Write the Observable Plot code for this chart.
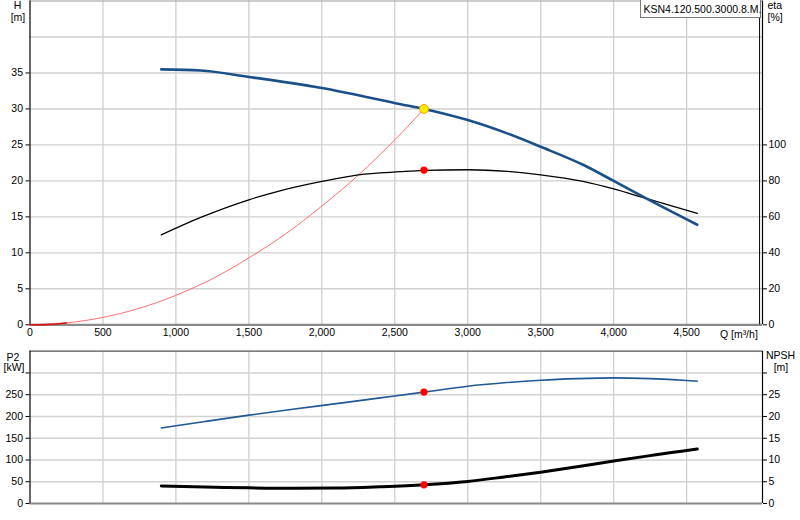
<!DOCTYPE html>
<html>
<head>
<meta charset="utf-8">
<script src="https://cdn.jsdelivr.net/npm/d3@7"></script>
<script src="https://cdn.jsdelivr.net/npm/@observablehq/plot@0.6"></script>
<style>
  body { margin: 0; background: #fff; }
  #wrap { position: relative; width: 800px; height: 520px; overflow: hidden; font-family: "Liberation Sans", Arial, sans-serif; }
  #topChart, #bottomChart { position: absolute; left: 0; }
  #topChart { top: 0; }
  #bottomChart { top: 345px; }
  #legend { position: absolute; left: 639.5px; top: -1px; width: 121px; height: 19px; border: 1px solid #7a7a7a; background: #fff;
            font-size: 10.5px; line-height: 19px; padding-left: 3px; box-sizing: border-box; white-space: nowrap; color: #000; }
</style>
</head>
<body>
<div id="wrap">
  <div id="topChart"></div>
  <div id="bottomChart"></div>
  <div id="legend">KSN4.120.500.3000.8.M.</div>
</div>
<script>
// ---- data ----
const qTicks = [0, 500, 1000, 1500, 2000, 2500, 3000, 3500, 4000, 4500];
const qGrid = [500, 1000, 1500, 2000, 2500, 3000, 3500, 4000, 4500];

// Head curve H [m]
const qH = [900, 1170, 1500, 2000, 2540, 2700, 3000, 3270, 3500, 3790, 4000, 4210, 4573];
const hVals = [35.5, 35.35, 34.45, 32.9, 30.66, 30.0, 28.45, 26.6, 24.74, 22.24, 20.0, 17.7, 13.9];

// Efficiency eta [%]
const qEta = [900, 1170, 1500, 1700, 2000, 2250, 2540, 2700, 3000, 3270, 3500, 3790, 4000, 4210, 4573];
const etaVals = [50, 59.7, 69.5, 74.2, 79.7, 83.4, 85.1, 85.8, 86.2, 85.3, 83.4, 79.7, 75.5, 70.5, 61.9];

// System curve H [m]
const qSys = [0, 125, 250, 500, 750, 1000, 1250, 1500, 1750, 2000, 2250, 2500, 2700];
const sysVals = [0, 0.06, 0.26, 1.03, 2.3, 4.1, 6.4, 9.3, 12.6, 16.5, 20.8, 25.7, 30.0];

// Power P2 [kW]
const qP2 = [900, 1200, 1500, 1800, 2100, 2400, 2700, 3000, 3250, 3500, 3750, 4000, 4250, 4500, 4573];
const p2Vals = [173.5, 188.5, 203, 216.5, 229.5, 242.7, 256, 269.6, 277.5, 283.4, 287, 288.8, 287, 282.7, 281];

// NPSH [m]
const qNpsh = [900, 1200, 1500, 1800, 2100, 2400, 2700, 3000, 3250, 3500, 3750, 4000, 4250, 4500, 4573];
const npshVals = [4.0, 3.8, 3.6, 3.5, 3.55, 3.85, 4.3, 5.07, 6.1, 7.2, 8.45, 9.75, 11.0, 12.2, 12.5];

// Duty point
const dutyQ = 2700, dutyH = 30, dutyEta = 86, dutyP2 = 256, dutyNpsh = 4.3;

const hTicks = [0, 5, 10, 15, 20, 25, 30, 35];
const hGrid = [5, 10, 15, 20, 25, 30, 35, 40];
const etaTicks = [0, 20, 40, 60, 80, 100];
const p2Ticks = [0, 50, 100, 150, 200, 250, 300];
const p2Labels = [0, 50, 100, 150, 200, 250];
const npshTicks = [0, 5, 10, 15, 20, 25, 30];
const npshLabels = [0, 5, 10, 15, 20, 25];

// ---- build tables ----
const headData = qH.map((q, i) => ({Q: q, v: hVals[i]}));
const etaData = qEta.map((q, i) => ({Q: q, v: etaVals[i]}));
const sysData = qSys.map((q, i) => ({Q: q, v: sysVals[i]}));
const p2Data = qP2.map((q, i) => ({Q: q, v: p2Vals[i]}));
const npshData = qNpsh.map((q, i) => ({Q: q, v: npshVals[i]}));

const ETA_K = 4;    // eta axis: 20 % per 5 m
const NPSH_K = 10;  // NPSH axis: 5 m per 50 kW
const XMAX = 5020;
const font = {fontFamily: "'Liberation Sans', Arial, sans-serif", fontSize: "10.5px", color: "#000", background: "transparent", overflow: "visible"};
const fmt = d3.format(",");

const topPlot = Plot.plot({
  width: 800, height: 345,
  marginLeft: 29.5, marginRight: 38, marginTop: 0.5, marginBottom: 20.7,
  style: font,
  x: {domain: [0, XMAX], label: null},
  y: {domain: [0, 45], label: null},
  marks: [
    Plot.ruleX(qGrid, {stroke: "#cbcbcb", strokeWidth: 1.2}),
    Plot.ruleY(hGrid, {stroke: "#d0d0d0", strokeWidth: 1.4}),
    Plot.ruleY([45], {stroke: "#9a9a9a", strokeWidth: 1}),
    Plot.ruleY([0], {stroke: "#8a8a8a", strokeWidth: 2.2}),
    Plot.ruleX([0], {stroke: "#000", strokeWidth: 1.2}),
    Plot.ruleX([XMAX], {stroke: "#000", strokeWidth: 1.2}),
    Plot.tickX([5000], {y1: 0, y2: 1.2, stroke: "#000"}),
    Plot.axisX({ticks: qTicks, tickFormat: fmt, tickSize: 0, tickPadding: 4, label: null}),
    Plot.axisY({anchor: "left", ticks: hTicks, tickSize: 4, tickPadding: 3, label: null}),
    Plot.axisY({anchor: "right", ticks: etaTicks.map(e => e / ETA_K), tickFormat: d => d * ETA_K, tickSize: 4, tickPadding: 2, label: null}),
    Plot.line(sysData, {x: "Q", y: "v", stroke: "#ff7070", strokeWidth: 1, curve: "monotone-x"}),
    Plot.line(sysData.slice(0, 3), {x: "Q", y: "v", stroke: "#d81010", strokeWidth: 1.6, curve: "monotone-x"}),
    Plot.line(etaData, {x: "Q", y: d => d.v / ETA_K, stroke: "#000", strokeWidth: 1.3, curve: "monotone-x"}),
    Plot.line(headData, {x: "Q", y: "v", stroke: "#1b4f8a", strokeWidth: 2.6, curve: "monotone-x"}),
    Plot.dot([{Q: dutyQ, v: dutyH}], {x: "Q", y: "v", r: 4.5, fill: "#ffea00", stroke: "#f2a000", strokeWidth: 1}),
    Plot.dot([{Q: dutyQ, v: dutyEta}], {x: "Q", y: d => d.v / ETA_K, r: 3.6, fill: "#ff0000", stroke: "none"}),
    Plot.text(["Q [m³/h]"], {text: d => d, frameAnchor: "bottom-right", dx: -4.7, dy: 10, textAnchor: "end", lineAnchor: "middle"}),
    Plot.text(["H"], {text: d => d, frameAnchor: "top-left", dx: -12.5, dy: 5, textAnchor: "middle", lineAnchor: "middle"}),
    Plot.text(["[m]"], {text: d => d, frameAnchor: "top-left", dx: -12, dy: 17, textAnchor: "middle", lineAnchor: "middle"}),
    Plot.text(["eta"], {text: d => d, frameAnchor: "top-right", dx: 5, dy: 5, textAnchor: "start", lineAnchor: "middle"}),
    Plot.text(["[%]"], {text: d => d, frameAnchor: "top-right", dx: 5, dy: 17, textAnchor: "start", lineAnchor: "middle"})
  ]
});
document.getElementById("topChart").appendChild(topPlot);

const bottomPlot = Plot.plot({
  width: 800, height: 175,
  marginLeft: 29.5, marginRight: 38, marginTop: 5.7, marginBottom: 17,
  style: font,
  x: {domain: [0, XMAX], label: null, axis: null},
  y: {domain: [0, 350], label: null},
  marks: [
    Plot.ruleX(qGrid, {stroke: "#cbcbcb", strokeWidth: 1.2}),
    Plot.ruleY(p2Ticks.slice(1), {stroke: "#d2d2d2", strokeWidth: 1.5}),
    Plot.ruleY([350], {stroke: "#555", strokeWidth: 1.2}),
    Plot.ruleY([0], {stroke: "#8a8a8a", strokeWidth: 2.2}),
    Plot.ruleX([0], {stroke: "#000", strokeWidth: 1.2}),
    Plot.ruleX([XMAX], {stroke: "#000", strokeWidth: 1.2}),
    Plot.axisY({anchor: "left", ticks: p2Ticks, tickFormat: d => p2Labels.includes(d) ? d : "", tickSize: 4, tickPadding: 3, label: null}),
    Plot.axisY({anchor: "right", ticks: npshTicks.map(n => n * NPSH_K), tickFormat: d => npshLabels.includes(d / NPSH_K) ? d / NPSH_K : "", tickSize: 4, tickPadding: 2, label: null}),
    Plot.line(p2Data, {x: "Q", y: "v", stroke: "#1f5894", strokeWidth: 1.6, curve: "monotone-x"}),
    Plot.line(npshData, {x: "Q", y: d => d.v * NPSH_K, stroke: "#000", strokeWidth: 3, curve: "monotone-x"}),
    Plot.dot([{Q: dutyQ, v: dutyP2}], {x: "Q", y: "v", r: 3.6, fill: "#ff0000", stroke: "none"}),
    Plot.dot([{Q: dutyQ, v: dutyNpsh}], {x: "Q", y: d => d.v * NPSH_K, r: 3.6, fill: "#ff0000", stroke: "none"}),
    Plot.text(["P2"], {text: d => d, frameAnchor: "top-left", dx: -17, dy: 6, textAnchor: "middle", lineAnchor: "middle"}),
    Plot.text(["[kW]"], {text: d => d, frameAnchor: "top-left", dx: -16, dy: 16.5, textAnchor: "middle", lineAnchor: "middle"}),
    Plot.text(["NPSH"], {text: d => d, frameAnchor: "top-right", dx: 18, dy: 4.5, textAnchor: "middle", lineAnchor: "middle"}),
    Plot.text(["[m]"], {text: d => d, frameAnchor: "top-right", dx: 18.5, dy: 16, textAnchor: "middle", lineAnchor: "middle"})
  ]
});
document.getElementById("bottomChart").appendChild(bottomPlot);
</script>
</body>
</html>
